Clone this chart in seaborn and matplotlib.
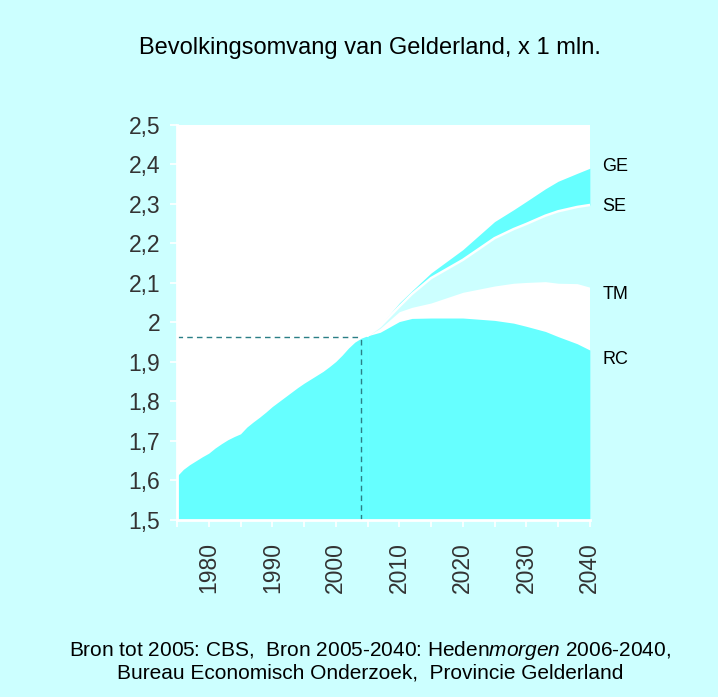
import matplotlib
matplotlib.use("Agg")
import matplotlib.pyplot as plt
import seaborn as sns
import numpy as np
import pandas as pd

# historical population (CBS), x 1 mln
hist_years = [1975, 1976, 1977, 1978, 1979, 1980, 1981, 1982, 1983, 1984, 1985,
              1986, 1987, 1988, 1989, 1990, 1991, 1992, 1993, 1994, 1995,
              1996, 1997, 1998, 1999, 2000, 2001, 2002, 2003, 2004, 2005]
hist_vals = [1.611, 1.628, 1.640, 1.650, 1.660, 1.669, 1.682, 1.693, 1.703, 1.711, 1.718,
             1.735, 1.748, 1.760, 1.773, 1.787, 1.799, 1.811, 1.823, 1.835, 1.846,
             1.856, 1.866, 1.876, 1.888, 1.901, 1.917, 1.935, 1.950, 1.960, 1.966]

# scenarios 2005-2040
proj_years = [2005, 2007, 2010, 2012, 2015, 2020, 2025, 2028, 2030, 2033, 2035, 2038, 2040]
rc = [1.966, 1.975, 2.002, 2.010, 2.011, 2.011, 2.005, 1.998, 1.990, 1.977, 1.964, 1.946, 1.930]
tm = [1.966, 1.985, 2.027, 2.038, 2.049, 2.076, 2.092, 2.099, 2.101, 2.103, 2.099, 2.098, 2.089]
se = [1.966, 1.990, 2.040, 2.072, 2.112, 2.158, 2.213, 2.236, 2.249, 2.270, 2.281, 2.292, 2.297]
ge = [1.966, 1.993, 2.049, 2.080, 2.125, 2.184, 2.255, 2.285, 2.306, 2.338, 2.357, 2.377, 2.390]

scen_labels = ["GE", "SE", "TM", "RC"]
ref_year, ref_val = 2004, 1.964

bg = "#ccffff"
cyan = "#66ffff"

sns.set_theme(style="white")
plt.rcParams["font.family"] = ["Liberation Sans", "DejaVu Sans"]
plt.rcParams["mathtext.fontset"] = "custom"
plt.rcParams["mathtext.rm"] = "Liberation Sans"
plt.rcParams["mathtext.it"] = "Liberation Sans:italic"

fig = plt.figure(figsize=(7.18, 6.97), dpi=100, facecolor=bg)
ax = fig.add_axes([0.2465, 0.254, 0.575, 0.567])
ax.set_facecolor("white")

hist = pd.DataFrame({"year": hist_years, "val": hist_vals})
proj = pd.DataFrame({"year": proj_years, "RC": rc, "TM": tm, "SE": se, "GE": ge})

# bands
ax.fill_between(hist["year"], 1.5, hist["val"], color=cyan, lw=0)
ax.fill_between(proj["year"], 1.5, proj["RC"], color=cyan, lw=0)
ax.fill_between(proj["year"], proj["TM"], proj["SE"], color=bg, lw=0)
ax.fill_between(proj["year"], proj["SE"], proj["GE"], color=cyan, lw=0)
sns.lineplot(data=proj, x="year", y="SE", color="white", lw=1.8, ax=ax)

# reference lines for 2004
ax.plot([1975, ref_year], [ref_val, ref_val], ls=(0, (4, 3)), color="#2a7f86", lw=1)
ax.plot([ref_year, ref_year], [1.5, ref_val], ls=(0, (4, 3)), color="#2a7f86", lw=1)

ax.set_xlim(1975, 2040)
ax.set_ylim(1.5, 2.5)
ax.set_xlabel("")
ax.set_ylabel("")

ax.set_xticks(range(1975, 2041, 5))
ax.set_xticklabels(["" if y % 10 else str(y) for y in range(1975, 2041, 5)],
                   rotation=90, fontsize=16.5, color="#333333")
yt = np.round(np.arange(1.5, 2.51, 0.1), 1)
ax.set_yticks(yt)
ax.set_yticklabels([("%g" % v).replace(".", ",") for v in yt], fontsize=16.5, color="#333333")
ax.tick_params(axis="both", length=5, width=1.2, color="white", direction="out",
               left=True, bottom=True)
ax.tick_params(axis="y", pad=7)
ax.tick_params(axis="x", pad=11)

for s in ["top", "right"]:
    ax.spines[s].set_visible(False)
for s in ["left", "bottom"]:
    ax.spines[s].set_color("white")
    ax.spines[s].set_linewidth(2)

# scenario labels
for lab, yv in zip(scen_labels, [2.395, 2.293, 2.07, 1.907]):
    ax.text(2042.0, yv, lab, fontsize=13, va="center", ha="left", color="black",
            clip_on=False)

fig.text(0.515, 0.931, "Bevolkingsomvang van Gelderland, x 1 mln.", fontsize=17,
         ha="center", va="center", color="black")
fig.text(0.515, 0.067, r"Bron tot 2005: CBS,  Bron 2005-2040: Heden$\it{morgen}$ 2006-2040,",
         fontsize=15, ha="center", va="center", color="black")
fig.text(0.515, 0.035, "Bureau Economisch Onderzoek,  Provincie Gelderland",
         fontsize=15, ha="center", va="center", color="black")

fig.savefig("out.png", dpi=100, facecolor=bg)
